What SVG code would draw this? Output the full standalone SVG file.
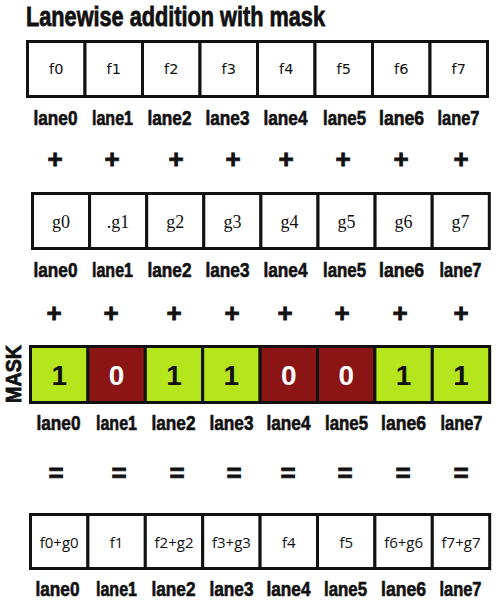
<svg xmlns="http://www.w3.org/2000/svg" width="501" height="610" viewBox="0 0 501 610">
<style>
.cell{fill:#fff;stroke:#111;stroke-width:3}
.on{fill:#b5e61d;stroke:#111;stroke-width:3}
.off{fill:#8b1515;stroke:#111;stroke-width:3}
.ct{font-family:"DejaVu Sans","Liberation Sans",sans-serif;font-size:14.5px;fill:#111;text-anchor:middle}
.gt{font-family:"Liberation Serif","DejaVu Serif",serif;font-size:18px;fill:#111;text-anchor:middle}
.rt{font-family:"Open Sans","Liberation Sans",sans-serif;font-size:15px;fill:#111;text-anchor:middle}
.mt{font-family:"Liberation Sans",sans-serif;font-weight:bold;font-size:28px;text-anchor:middle}
.lb{font-family:"Liberation Sans",sans-serif;font-weight:bold;font-size:20px;fill:#111;stroke:#111;stroke-width:0.6;text-anchor:middle}
.op{font-family:"Liberation Sans",sans-serif;font-weight:bold;font-size:26px;fill:#111;stroke:#111;stroke-width:0.8;text-anchor:middle}
</style>
<text x="26" y="26" font-family="Liberation Sans,sans-serif" font-weight="bold" font-size="28" fill="#111" stroke="#111" stroke-width="0.8" textLength="299" lengthAdjust="spacingAndGlyphs">Lanewise addition with mask</text>

<g id="row-f" transform="translate(27.5,41.5)">
<g id="f0"><rect class="cell" x="0" y="0" width="57.5" height="55"/><text class="ct" x="28.75" y="32">f0</text></g>
<g id="f1"><rect class="cell" x="57.5" y="0" width="57.5" height="55"/><text class="ct" x="86.25" y="32">f1</text></g>
<g id="f2"><rect class="cell" x="115" y="0" width="57.5" height="55"/><text class="ct" x="143.75" y="32">f2</text></g>
<g id="f3"><rect class="cell" x="172.5" y="0" width="57.5" height="55"/><text class="ct" x="201.25" y="32">f3</text></g>
<g id="f4"><rect class="cell" x="230" y="0" width="57.5" height="55"/><text class="ct" x="258.75" y="32">f4</text></g>
<g id="f5"><rect class="cell" x="287.5" y="0" width="57.5" height="55"/><text class="ct" x="316.25" y="32">f5</text></g>
<g id="f6"><rect class="cell" x="345" y="0" width="57.5" height="55"/><text class="ct" x="373.75" y="32">f6</text></g>
<g id="f7"><rect class="cell" x="402.5" y="0" width="57.5" height="55"/><text class="ct" x="431.25" y="32">f7</text></g>
<g id="labels-f">
<text class="lb" x="28" y="83" textLength="44" lengthAdjust="spacingAndGlyphs">lane0</text>
<text class="lb" x="85" y="83" textLength="41" lengthAdjust="spacingAndGlyphs">lane1</text>
<text class="lb" x="142" y="83" textLength="44" lengthAdjust="spacingAndGlyphs">lane2</text>
<text class="lb" x="200" y="83" textLength="44" lengthAdjust="spacingAndGlyphs">lane3</text>
<text class="lb" x="258" y="83" textLength="44" lengthAdjust="spacingAndGlyphs">lane4</text>
<text class="lb" x="317" y="83" textLength="43" lengthAdjust="spacingAndGlyphs">lane5</text>
<text class="lb" x="374" y="83" textLength="45" lengthAdjust="spacingAndGlyphs">lane6</text>
<text class="lb" x="431" y="83" textLength="42" lengthAdjust="spacingAndGlyphs">lane7</text>
</g>
</g>

<g id="ops-plus-1">
<text class="op" x="55" y="168">+</text>
<text class="op" x="112" y="168">+</text>
<text class="op" x="176" y="168">+</text>
<text class="op" x="233" y="168">+</text>
<text class="op" x="286" y="168">+</text>
<text class="op" x="343" y="168">+</text>
<text class="op" x="401" y="168">+</text>
<text class="op" x="461" y="168">+</text>
</g>

<g id="row-g" transform="translate(32.5,193.5)">
<g id="g0"><rect class="cell" x="0" y="0" width="57.1" height="55"/><text class="gt" x="28.5" y="34">g0</text></g>
<g id="g1"><rect class="cell" x="57.1" y="0" width="57.1" height="55"/><text class="gt" x="85.6" y="34">.g1</text></g>
<g id="g2"><rect class="cell" x="114.2" y="0" width="57.1" height="55"/><text class="gt" x="142.8" y="34">g2</text></g>
<g id="g3"><rect class="cell" x="171.3" y="0" width="57.1" height="55"/><text class="gt" x="199.9" y="34">g3</text></g>
<g id="g4"><rect class="cell" x="228.4" y="0" width="57.1" height="55"/><text class="gt" x="257" y="34">g4</text></g>
<g id="g5"><rect class="cell" x="285.5" y="0" width="57.1" height="55"/><text class="gt" x="314" y="34">g5</text></g>
<g id="g6"><rect class="cell" x="342.6" y="0" width="57.1" height="55"/><text class="gt" x="371" y="34">g6</text></g>
<g id="g7"><rect class="cell" x="399.7" y="0" width="57.1" height="55"/><text class="gt" x="428" y="34">g7</text></g>
<g id="labels-g">
<text class="lb" x="23" y="83" textLength="44" lengthAdjust="spacingAndGlyphs">lane0</text>
<text class="lb" x="80" y="83" textLength="41" lengthAdjust="spacingAndGlyphs">lane1</text>
<text class="lb" x="137" y="83" textLength="44" lengthAdjust="spacingAndGlyphs">lane2</text>
<text class="lb" x="195" y="83" textLength="44" lengthAdjust="spacingAndGlyphs">lane3</text>
<text class="lb" x="253" y="83" textLength="44" lengthAdjust="spacingAndGlyphs">lane4</text>
<text class="lb" x="312" y="83" textLength="43" lengthAdjust="spacingAndGlyphs">lane5</text>
<text class="lb" x="369" y="83" textLength="45" lengthAdjust="spacingAndGlyphs">lane6</text>
<text class="lb" x="428" y="83" textLength="42" lengthAdjust="spacingAndGlyphs">lane7</text>
</g>
</g>

<g id="ops-plus-2">
<text class="op" x="54" y="322">+</text>
<text class="op" x="111" y="322">+</text>
<text class="op" x="174" y="322">+</text>
<text class="op" x="232" y="322">+</text>
<text class="op" x="285" y="322">+</text>
<text class="op" x="342" y="322">+</text>
<text class="op" x="400" y="322">+</text>
<text class="op" x="461" y="322">+</text>
</g>

<text x="13" y="374" transform="rotate(-90 13 374)" font-family="Liberation Sans,sans-serif" font-weight="bold" font-size="22" fill="#111" stroke="#111" stroke-width="0.8" text-anchor="middle" dominant-baseline="central" textLength="58" lengthAdjust="spacingAndGlyphs">MASK</text>

<g id="row-mask" transform="translate(30.5,346.5)">
<g id="m0"><rect class="on" x="0" y="0" width="57.4" height="56"/><text class="mt" x="28.7" y="38" fill="#111">1</text></g>
<g id="m1"><rect class="off" x="57.4" y="0" width="57.4" height="56"/><text class="mt" x="86.1" y="38" fill="#fff">0</text></g>
<g id="m2"><rect class="on" x="114.8" y="0" width="57.4" height="56"/><text class="mt" x="143.5" y="38" fill="#111">1</text></g>
<g id="m3"><rect class="on" x="172.2" y="0" width="57.4" height="56"/><text class="mt" x="200.9" y="38" fill="#111">1</text></g>
<g id="m4"><rect class="off" x="229.6" y="0" width="57.4" height="56"/><text class="mt" x="258.3" y="38" fill="#fff">0</text></g>
<g id="m5"><rect class="off" x="287" y="0" width="57.4" height="56"/><text class="mt" x="315.7" y="38" fill="#fff">0</text></g>
<g id="m6"><rect class="on" x="344.4" y="0" width="57.4" height="56"/><text class="mt" x="373.1" y="38" fill="#111">1</text></g>
<g id="m7"><rect class="on" x="401.8" y="0" width="57.4" height="56"/><text class="mt" x="430.5" y="38" fill="#111">1</text></g>
<g id="labels-m">
<text class="lb" x="28" y="83" textLength="44" lengthAdjust="spacingAndGlyphs">lane0</text>
<text class="lb" x="86" y="83" textLength="41" lengthAdjust="spacingAndGlyphs">lane1</text>
<text class="lb" x="143" y="83" textLength="44" lengthAdjust="spacingAndGlyphs">lane2</text>
<text class="lb" x="201" y="83" textLength="44" lengthAdjust="spacingAndGlyphs">lane3</text>
<text class="lb" x="258" y="83" textLength="44" lengthAdjust="spacingAndGlyphs">lane4</text>
<text class="lb" x="316" y="83" textLength="43" lengthAdjust="spacingAndGlyphs">lane5</text>
<text class="lb" x="373" y="83" textLength="45" lengthAdjust="spacingAndGlyphs">lane6</text>
<text class="lb" x="431" y="83" textLength="42" lengthAdjust="spacingAndGlyphs">lane7</text>
</g>
</g>

<g id="ops-eq">
<text class="op" x="56" y="482">=</text>
<text class="op" x="119" y="482">=</text>
<text class="op" x="177" y="482">=</text>
<text class="op" x="234" y="482">=</text>
<text class="op" x="288" y="482">=</text>
<text class="op" x="345" y="482">=</text>
<text class="op" x="403" y="482">=</text>
<text class="op" x="461" y="482">=</text>
</g>

<g id="row-result" transform="translate(30.5,514.5)">
<g id="r0"><rect class="cell" x="0" y="0" width="57.4" height="54"/><text class="rt" x="28.7" y="33">f0+g0</text></g>
<g id="r1"><rect class="cell" x="57.4" y="0" width="57.4" height="54"/><text class="rt" x="86.1" y="33">f1</text></g>
<g id="r2"><rect class="cell" x="114.8" y="0" width="57.4" height="54"/><text class="rt" x="143.5" y="33">f2+g2</text></g>
<g id="r3"><rect class="cell" x="172.2" y="0" width="57.4" height="54"/><text class="rt" x="200.9" y="33">f3+g3</text></g>
<g id="r4"><rect class="cell" x="229.6" y="0" width="57.4" height="54"/><text class="rt" x="258.3" y="33">f4</text></g>
<g id="r5"><rect class="cell" x="287" y="0" width="57.4" height="54"/><text class="rt" x="315.7" y="33">f5</text></g>
<g id="r6"><rect class="cell" x="344.4" y="0" width="57.4" height="54"/><text class="rt" x="373.1" y="33">f6+g6</text></g>
<g id="r7"><rect class="cell" x="401.8" y="0" width="57.4" height="54"/><text class="rt" x="430.5" y="33">f7+g7</text></g>
<g id="labels-r">
<text class="lb" x="27" y="81" textLength="44" lengthAdjust="spacingAndGlyphs">lane0</text>
<text class="lb" x="86" y="81" textLength="41" lengthAdjust="spacingAndGlyphs">lane1</text>
<text class="lb" x="143" y="81" textLength="44" lengthAdjust="spacingAndGlyphs">lane2</text>
<text class="lb" x="201" y="81" textLength="44" lengthAdjust="spacingAndGlyphs">lane3</text>
<text class="lb" x="258" y="81" textLength="44" lengthAdjust="spacingAndGlyphs">lane4</text>
<text class="lb" x="315" y="81" textLength="43" lengthAdjust="spacingAndGlyphs">lane5</text>
<text class="lb" x="373" y="81" textLength="45" lengthAdjust="spacingAndGlyphs">lane6</text>
<text class="lb" x="430" y="81" textLength="42" lengthAdjust="spacingAndGlyphs">lane7</text>
</g>
</g>
</svg>
